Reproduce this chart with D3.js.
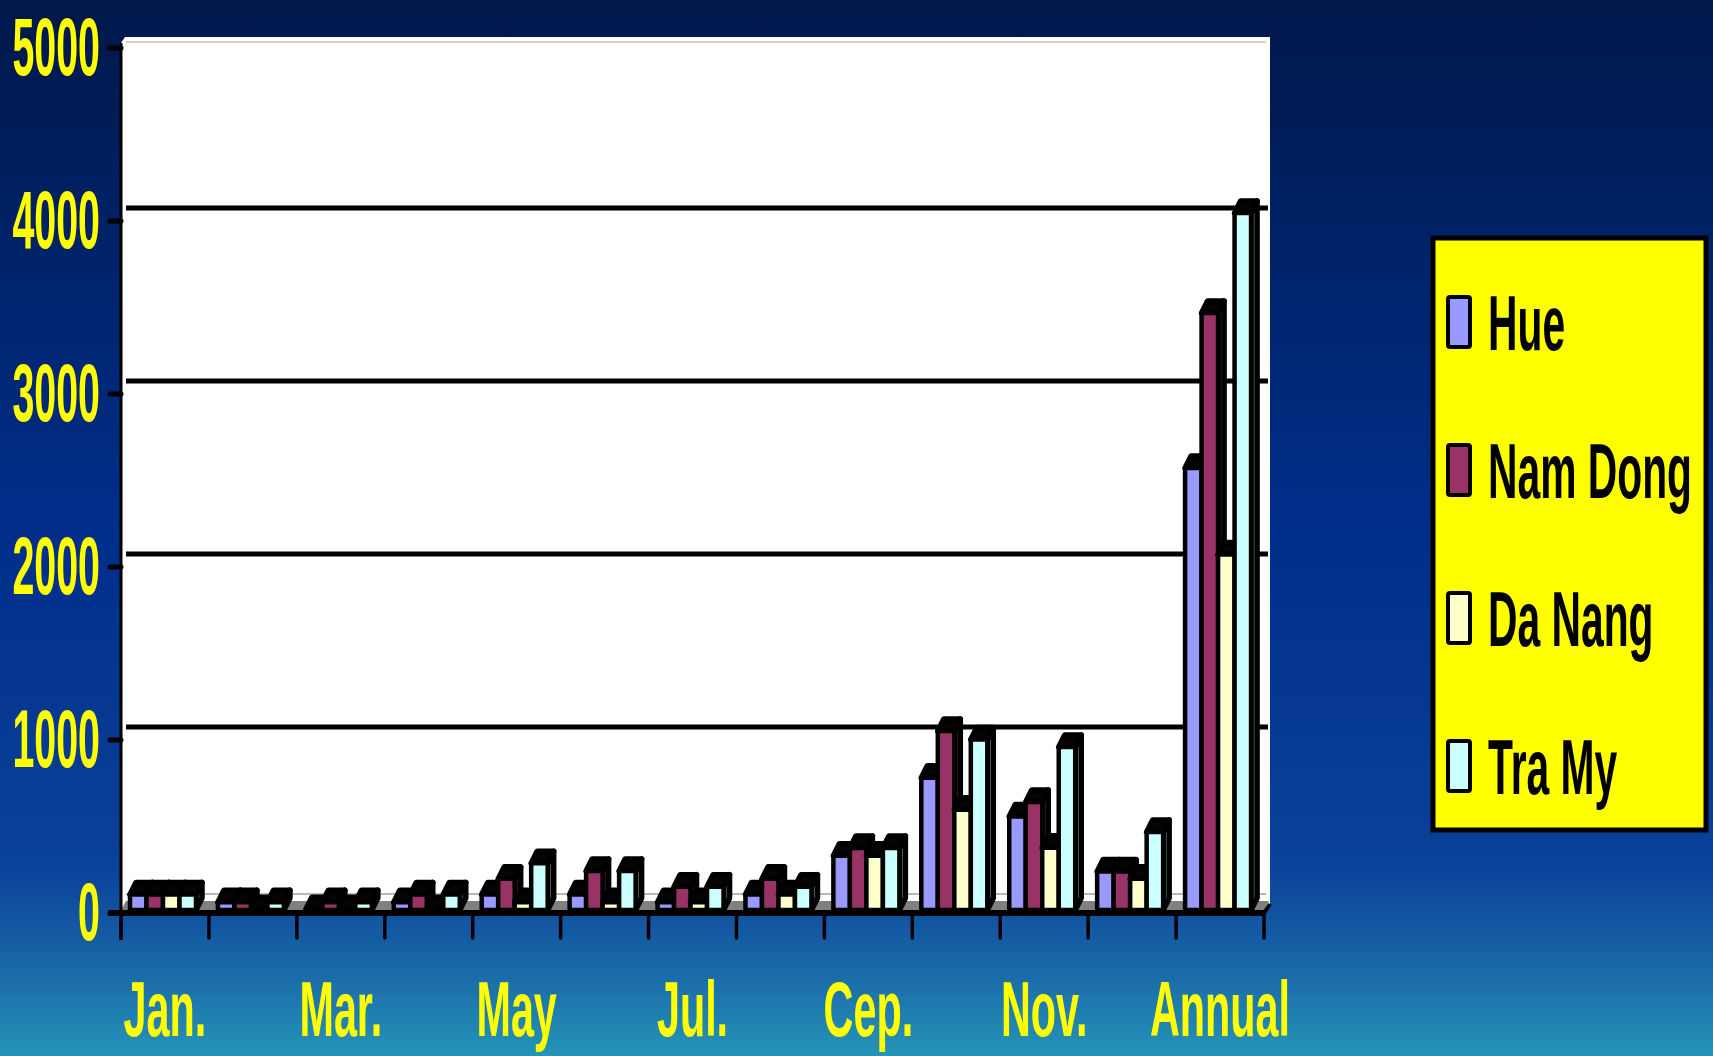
<!DOCTYPE html>
<meta charset="utf-8">
<html>
<style>
 body { margin:0; overflow:hidden; }
 svg { display:block; }
 text { font-family: "Liberation Sans", Arial, sans-serif; font-weight: bold; }
</style>
<script src="https://d3js.org/d3.v7.min.js"></script>
<svg width="1713" height="1056"></svg>
<script>
// rainfall by month, four stations
const months = ["Jan.","Feb.","Mar.","Apr.","May","Jun.","Jul.","Aug.","Cep.","Oct.","Nov.","Dec.","Annual"];
const shownLabels = ["Jan.","Mar.","May","Jul.","Cep.","Nov.","Annual"];
const seriesNames = ["Hue","Nam Dong","Da Nang","Tra My"];
const hue     = [90, 45, 5, 45, 90, 90, 45, 90, 313, 765, 540, 222, 2555];
const namDong = [90, 45, 45, 90, 180, 225, 135, 180, 358, 1035, 625, 222, 3451];
const daNang  = [90, 5, 5, 5, 45, 45, 45, 90, 313, 580, 360, 180, 2055];
const traMy   = [90, 45, 45, 90, 270, 225, 135, 135, 358, 985, 942, 451, 4029];
const yTicks = [0, 1000, 2000, 3000, 4000, 5000];

const seriesValues = [hue, namDong, daNang, traMy];
const colors = ["#9999ff", "#993366", "#ffffcc", "#ccffff"];

const svg = d3.select('svg');

// background
const defs = svg.append('defs');
const grad = defs.append('linearGradient')
	.attr('id', 'bg')
	.attr('x1', 0).attr('y1', 0).attr('x2', 0).attr('y2', 1);
[[0, "#00184a"], [0.5, "#002e8a"], [0.82, "#0a4199"], [0.92, "#1a69a8"], [1, "#2594b8"]]
	.forEach(s => grad.append('stop').attr('offset', s[0]).attr('stop-color', s[1]));
svg.append('rect').attr('width', 1713).attr('height', 1056).attr('fill', 'url(#bg)');

const left = 121, right = 1264, base = 910;
const dx = 6, dy = -12;

const y = d3.scaleLinear().domain([0, 5000]).range([base, 45]);
const x0 = d3.scaleBand().domain(months).range([left, right]);
const x1 = d3.scaleBand().domain(seriesNames).range([9, 75]);

// back wall
svg.append('polygon')
	.attr('points', [[left, 43], [left + 4, 37], [1270, 37], [1270, 905], [right, 913], [left, 913]].join(' '))
	.attr('fill', 'white');

svg.append('line')
	.attr('x1', 126).attr('x2', 1266)
	.attr('y1', y(5000) - 3).attr('y2', y(5000) - 3)
	.attr('stroke', '#c0c0c0').attr('stroke-width', 1.5);
svg.append('line')
	.attr('x1', 126).attr('x2', 1266)
	.attr('y1', y(0) - 16).attr('y2', y(0) - 16)
	.attr('stroke', '#a0a0a0').attr('stroke-width', 1.5);

svg.selectAll('.grid')
	.data(yTicks.filter(d => d > 0 && d < 5000))
	.enter().append('line')
	.attr('class', 'grid')
	.attr('x1', 126).attr('x2', 1268)
	.attr('y1', d => y(d) - 10).attr('y2', d => y(d) - 10)
	.attr('stroke', 'black').attr('stroke-width', 5);

// floor
svg.append('polygon')
	.attr('points', [[left, base], [right, base], [right + 5, base - 9], [left + 5, base - 9]].join(' '))
	.attr('fill', '#808080');

// bars, left to right so right hand bars cover the sides
const shade = (c, k) => d3.rgb(c).darker(k).toString();
const groups = svg.selectAll('.month')
	.data(months)
	.enter().append('g')
	.attr('class', 'month')
	.attr('transform', d => `translate(${x0(d)},0)`);

groups.each(function(m, i){
	const g = d3.select(this);
	seriesNames.forEach((s, j) => {
		const v = seriesValues[j][i];
		const bx = x1(s), bw = x1.bandwidth();
		const top = y(v);
		const bar = g.append('g')
			.attr('stroke', 'black')
			.attr('stroke-width', 5.5)
			.attr('stroke-linejoin', 'round');
		bar.append('polygon')
			.attr('points', [[bx + bw, top], [bx + bw + dx, top + dy], [bx + bw + dx, base + dy], [bx + bw, base]].join(' '))
			.attr('fill', shade(colors[j], 1.1));
		bar.append('polygon')
			.attr('points', [[bx, top], [bx + bw, top], [bx + bw + dx, top + dy], [bx + dx, top + dy]].join(' '))
			.attr('fill', '#050505');
		bar.append('rect')
			.attr('x', bx).attr('y', top)
			.attr('width', bw).attr('height', base - top)
			.attr('fill', colors[j])
			.attr('stroke-width', 4.5);
	});
});

// axes
svg.append('line')
	.attr('x1', left).attr('x2', left)
	.attr('y1', 43).attr('y2', 940)
	.attr('stroke', 'black').attr('stroke-width', 3);
svg.append('line')
	.attr('x1', 108).attr('x2', right)
	.attr('y1', 913).attr('y2', 913)
	.attr('stroke', 'black').attr('stroke-width', 6);
svg.append('line')
	.attr('x1', right).attr('x2', 1270)
	.attr('y1', 913).attr('y2', 904)
	.attr('stroke', 'black').attr('stroke-width', 4);

svg.selectAll('.ytick')
	.data(yTicks)
	.enter().append('line')
	.attr('class', 'ytick')
	.attr('x1', 110).attr('x2', left)
	.attr('y1', d => y(d) + 3).attr('y2', d => y(d) + 3)
	.attr('stroke', 'black').attr('stroke-width', 5)
	.attr('stroke-linecap', 'round');

svg.selectAll('.xtick')
	.data(months.map(m => x0(m)).concat([right]))
	.enter().append('line')
	.attr('class', 'xtick')
	.attr('x1', d => d).attr('x2', d => d)
	.attr('y1', 913).attr('y2', 938)
	.attr('stroke', 'black').attr('stroke-width', 3.5)
	.attr('stroke-linecap', 'round');

svg.selectAll('.ylabel')
	.data(yTicks)
	.enter().append('text')
	.attr('class', 'ylabel')
	.attr('transform', d => `translate(100,${y(d) + 30}) scale(0.48,1)`)
	.attr('text-anchor', 'end')
	.attr('font-size', 82)
	.attr('fill', '#ffff00')
	.text(d => d);

svg.selectAll('.xlabel')
	.data(shownLabels)
	.enter().append('text')
	.attr('class', 'xlabel')
	.attr('transform', d => `translate(${x0(d) + x0.bandwidth() / 2},1036) scale(0.53,1)`)
	.attr('text-anchor', 'middle')
	.attr('font-size', 78)
	.attr('fill', '#ffff00')
	.text(d => d);

// legend
const legend = svg.append('g').attr('transform', 'translate(1433,238)');
legend.append('rect')
	.attr('width', 273).attr('height', 592)
	.attr('fill', '#ffff00')
	.attr('stroke', 'black').attr('stroke-width', 5);

const items = legend.selectAll('.item')
	.data(seriesNames)
	.enter().append('g')
	.attr('class', 'item')
	.attr('transform', (d, i) => `translate(0,${84 + i * 148})`);
items.append('rect')
	.attr('x', 15).attr('y', -25)
	.attr('width', 22).attr('height', 50)
	.attr('rx', 2)
	.attr('fill', (d, i) => colors[i])
	.attr('stroke', 'black').attr('stroke-width', 4);
items.append('text')
	.attr('transform', 'translate(55,28) scale(0.53,1)')
	.attr('font-size', 77)
	.attr('fill', 'black')
	.text(d => d);
</script>
</html>
